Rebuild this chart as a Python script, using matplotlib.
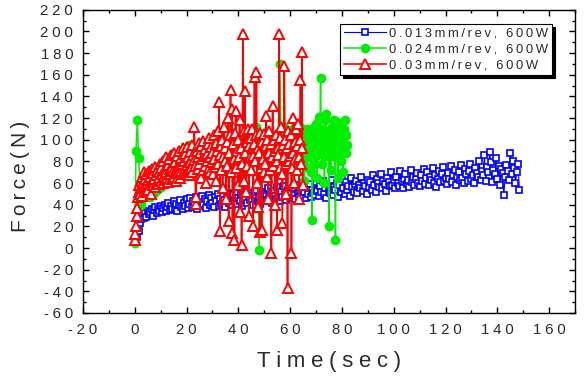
import numpy as np
import matplotlib
matplotlib.use("Agg")
import matplotlib.pyplot as plt
from matplotlib.ticker import MultipleLocator, FuncFormatter

plt.rcParams['font.family'] = ['Liberation Sans', 'DejaVu Sans']
plt.rcParams['axes.unicode_minus'] = False

# sampling times (sec)
t_013 = np.arange(1, 149, 0.5)
t_024 = np.concatenate([np.arange(0, 65, 0.5), np.arange(65, 82.25, 0.25)])
t_03 = np.arange(0, 65.25, 0.25)

# force values (N)
f_013 = [10, 16, 23, 27, 30, 28, 32, 29, 34, 31, 33, 36, 30, 35, 38, 32, 36, 34, 39, 33,
         37, 40, 34, 38, 42, 35, 39, 36, 43, 37, 41, 34, 40, 44, 38, 36, 42, 39, 45, 37,
         41, 46, 38, 43, 40, 47, 36, 44, 42, 39, 48, 41, 45, 37, 43, 49, 40, 46, 42, 38,
         47, 43, 50, 39, 45, 41, 48, 44, 38, 46, 51, 42, 47, 40, 49, 44, 52, 41, 46, 43,
         50, 39, 47, 45, 53, 42, 48, 44, 51, 40, 49, 46, 54, 43, 47, 41, 52, 45, 50, 48,
         44, 55, 46, 51, 42, 53, 48, 45, 56, 49, 43, 52, 47, 57, 50, 44, 54, 48, 51, 46,
         55, 49, 45, 58, 51, 47, 53, 60, 48, 52, 46, 56, 50, 59, 47, 54, 51, 49, 61, 53,
         48, 57, 52, 62, 50, 55, 46, 59, 53, 51, 63, 49, 56, 54, 60, 47, 58, 52, 64, 55,
         50, 61, 54, 57, 48, 65, 56, 52, 59, 62, 51, 58, 55, 66, 53, 60, 57, 50, 63, 56,
         61, 54, 67, 58, 52, 64, 60, 56, 68, 55, 62, 59, 53, 65, 61, 57, 70, 58, 63, 55,
         66, 60, 57, 71, 62, 55, 64, 68, 59, 63, 56, 72, 61, 66, 58, 64, 69, 60, 57, 67,
         62, 73, 59, 65, 70, 58, 66, 63, 74, 60, 67, 56, 64, 71, 61, 68, 75, 62, 65, 59,
         69, 64, 76, 61, 67, 72, 58, 66, 70, 63, 77, 65, 60, 73, 68, 62, 71, 78, 64, 67,
         60, 74, 69, 66, 80, 63, 71, 67, 86, 62, 75, 70, 89, 79, 61, 72, 68, 83, 64, 76,
         58, 73, 69, 49, 66, 77, 71, 63, 88, 68, 80, 74, 60, 70, 78, 54]

f_024 = [5, 90, 118, 83, 60, 40, 45, 50, 48, 52,
         55, 50, 47, 53, 56, 51, 58, 54, 57, 60,
         56, 62, 58, 64, 60, 66, 62, 68, 64, 70,
         66, 85, 72, 68, 74, 70, 76, 72, 80, 74,
         78, 74, 95, 76, 82, 78, 84, 80, 86, 82,
         80, 95, 78, 86, 80, 88, 84, 82, 90, 86,
         84, 82, 90, 88, 86, 85, 92, 90, 86, 88,
         90, 88, 86, 94, 90, 84, 86, 92, 88, 90,
         103, 88, 86, 94, 90, 92, 84, 90, 92, 88,
         90, 94, 88, 100, 112, 96, -2, 90, 88, 94,
         94, 90, 88, 98, 96, 92, 92, 100, 98, 94,
         90, 96, 170, 106, 102, 112, 94, 100, 108, 96,
         104, 92, 110, 98, 88, 106, 100, 94, 112, 90,
         80, 95, 62, 105, 88, 75, 110, 92, 88, 100, 98, 84, 70, 108, 26, 96, 90, 112, 78, 102,
         115, 86, 65, 98, 90, 121, 104, 157, 92, 78, 110, 102, 88, 60, 118, 124, 96, 85, 106, 92,
         20, 108, 94, 72, 112, 95, 88, 118, 100, 84, 7.5, 104, 90, 116, 65, 98, 112, 86, 80, 106,
         100, 92, 70, 110, 118, 96, 88, 104, 95]

f_03 = [7, 13, 20, 30, 37, 47, 52, 58, 50, 62, 55, 66, 48, 60, 70, 57, 64, 52, 68, 59,
        63, 54, 71, 60, 66, 50, 73, 62, 58, 69, 64, 75, 56, 67, 61, 72, 59, 70, 65, 78,
        62, 74, 68, 60, 80, 66, 72, 63, 84, 70, 65, 77, 61, 82, 73, 68, 86, 64, 75, 71,
        88, 66, 79, 72, 62, 85, 74, 69, 90, 76, 65, 83, 71, 78, 92, 68, 80, 74, 87, 70,
        77, 93, 72, 84, 67, 89, 79, 74, 95, 70, 86, 81, 112, 76, 41, 47, 90, 73, 84, 97,
        78, 88, 65, 94, 82, 72, 99, 85, 76, 91, 60, 87, 80, 96, 74, 102, 84, 70, 93, 79,
        88, 68, 104, 82, 75, 97, 62, 90, 108, 78, 135, 86, 16, 94, 72, 100, 55, 84, 112, 80,
        92, 45, 98, 76, 120, 25, 88, 104, 146, 70, 128, 14, 96, 82, 7, 106, 127, 74, 90, 58,
        100, 84, 118, 33, 92, 3, 78, 198, 108, 62, 145, 88, 52, 98, 76, 110, 30, 94, 84, 102,
        72, 110, 85, 20, 96, 158, 80, 104, 163, 60, 92, 38, 88, 15, 106, 74, 17, 98, 82, 70,
        105, 78, 94, 122, 66, 100, 45, 88, 108, 72, 96, -5, 84, 131, 76, 100, 90, 40, 104, 80,
        17, 92, 86, 198, 74, 102, 112, 68, 23, 95, 84, 168, 100, 78, 50, 92, -37, 108, 80, 96,
        85, 104, -5, 74, 120, 88, 60, 98, 82, 110, 72, 94, 115, 84, 45, 100, 155, 78, 181, 92,
        58]

labels = ['0.013mm/rev, 600W', '0.024mm/rev, 600W', '0.03mm/rev, 600W']


def spaced(s, gap='\u2005'):
    # the original text is drawn with wide letter spacing
    return gap.join(s)


txt_col = '#2a2a2a'

fig = plt.figure(figsize=(5.88, 3.78), dpi=100)
ax = fig.add_axes([0.141, 0.172, 0.837, 0.802])

ax.plot(t_013, f_013, color='#0000ff', lw=0.8, marker='s', ms=5,
        mfc='white', mec='#0000ff', mew=1.2, label=spaced(labels[0], '\u2009'))
ax.plot(t_024, f_024, color='#00ee00', lw=1.1, marker='o', ms=6,
        mfc='#00ee00', mec='#00ee00', label=spaced(labels[1], '\u2009'))
ax.plot(t_03, f_03, color='#ff0000', lw=1.2, marker='^', ms=7,
        mfc='white', mec='#ff0000', mew=1.4, label=spaced(labels[2], '\u2009'))

ax.set_xlim(-20, 170)
ax.set_ylim(-60, 220)
ax.xaxis.set_major_locator(MultipleLocator(20))
ax.xaxis.set_minor_locator(MultipleLocator(10))
ax.yaxis.set_major_locator(MultipleLocator(20))
ax.yaxis.set_minor_locator(MultipleLocator(10))
fmt = FuncFormatter(lambda v, p: spaced(f'{v:.0f}'))
ax.xaxis.set_major_formatter(fmt)
ax.yaxis.set_major_formatter(fmt)
ax.tick_params(which='both', direction='in', top=True, right=True,
               labelsize=10.8, labelcolor=txt_col, width=1)
ax.tick_params(which='major', length=4.5, pad=7)
ax.tick_params(which='minor', length=2.5)
for s in ax.spines.values():
    s.set_linewidth(1.0)

ax.set_xlabel(spaced('Time(sec)'), fontsize=16, color=txt_col)
ax.xaxis.set_label_coords(0.5, -0.125)
ax.set_ylabel(spaced('Force(N)', '\u2009'), fontsize=15, color=txt_col)
ax.yaxis.set_label_coords(-0.108, 0.452)

leg = ax.legend(loc='upper right', bbox_to_anchor=(0.953, 0.954),
                fontsize=9.4, fancybox=False, edgecolor='black',
                framealpha=1, handlelength=3.2, borderpad=0.3,
                labelspacing=0.28, handletextpad=0.25, borderaxespad=0,
                shadow={'color': 'black', 'alpha': 1})
leg.get_frame().set_linewidth(0.8)
for txt in leg.get_texts():
    txt.set_color(txt_col)

fig.savefig('out.png', dpi=100)
